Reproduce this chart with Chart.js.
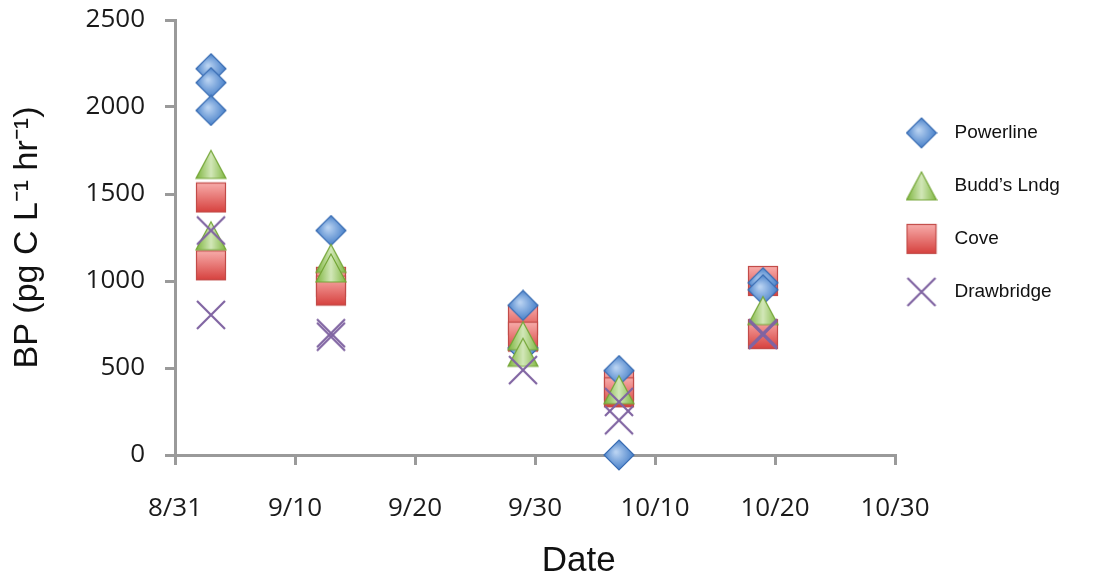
<!DOCTYPE html>
<html>
<head>
<meta charset="utf-8">
<script src="https://cdn.jsdelivr.net/npm/chart.js@4.4.1/dist/chart.umd.min.js"></script>
<style>
  html, body { margin: 0; padding: 0; background: #fff; }
  #wrap { width: 1096px; height: 579px; }
</style>
</head>
<body>
<div id="wrap"><canvas id="bpChart"></canvas></div>
<script>
//------------- DATA -----------------

// sampling days, counted from 8/31
const sampleDays = [3, 13, 29, 37, 49];
const dateTicks = ['8/31', '9/10', '9/20', '9/30', '10/10', '10/20', '10/30'];

// replicate values per sampling day (pg C L-1 hr-1)
const powerline  = [[2220, 2140, 1980], [1290], [860, 615], [485, 0], [990, 950]];
const buddsLndg  = [[1670, 1260], [1130, 1075], [685, 590], [375], [830]];
const cove       = [[1480, 1090], [995, 945], [775, 680], [400, 360], [1000, 695]];
const drawbridge = [[1290, 805], [700, 680], [488], [305, 200], [700, 690]];

function toPoints(reps) {
  const pts = [];
  reps.forEach((vals, i) => vals.forEach(v => pts.push({x: sampleDays[i], y: v})));
  return pts;
}

//------------- MARKERS -----------------

function makeMarker(draw) {
  const c = document.createElement('canvas');
  c.width = 32;
  c.height = 32;
  draw(c.getContext('2d'));
  return c;
}

const diamond = makeMarker(g => {
  const gr = g.createRadialGradient(13, 13, 1, 16, 16, 16);
  gr.addColorStop(0, '#b7d1f1');
  gr.addColorStop(1, '#3f7ac6');
  g.beginPath();
  g.moveTo(16, 1); g.lineTo(31, 16); g.lineTo(16, 31); g.lineTo(1, 16);
  g.closePath();
  g.fillStyle = gr; g.fill();
  g.lineWidth = 1.2; g.strokeStyle = '#3a6db3'; g.stroke();
});

const triangle = makeMarker(g => {
  const gr = g.createLinearGradient(1, 0, 31, 0);
  gr.addColorStop(0, '#7cb43c');
  gr.addColorStop(0.5, '#d2e7b8');
  gr.addColorStop(1, '#80b742');
  g.beginPath();
  g.moveTo(16, 2); g.lineTo(31, 30); g.lineTo(1, 30);
  g.closePath();
  g.fillStyle = gr; g.fill();
  g.lineWidth = 1.2; g.strokeStyle = '#74a637'; g.stroke();
});

const square = makeMarker(g => {
  const gr = g.createLinearGradient(0, 1, 0, 31);
  gr.addColorStop(0, '#f8aeac');
  gr.addColorStop(1, '#d6403d');
  g.fillStyle = gr;
  g.fillRect(1.5, 1.5, 29, 29);
  g.lineWidth = 1.2; g.strokeStyle = '#c24b48';
  g.strokeRect(1.5, 1.5, 29, 29);
});

const cross = makeMarker(g => {
  g.strokeStyle = '#8064a2';
  g.lineWidth = 2.2;
  g.beginPath();
  g.moveTo(2, 2); g.lineTo(30, 30);
  g.moveTo(30, 2); g.lineTo(2, 30);
  g.stroke();
});

//------------- CHART -----------------

const legendWidth = 201;
const legendLeft = 864;

// keep the legend narrow and start its items close to the plot
const legendBox = {
  id: 'legendBox',
  beforeUpdate(chart) {
    const lg = chart.legend;
    if (lg && !lg._fixedFit) {
      const fit = lg.fit;
      lg.fit = function () { fit.call(this); this.width = legendWidth; };
      lg._fixedFit = true;
    }
  },
  afterLayout(chart) {
    const lg = chart.legend;
    lg.left = legendLeft;
    lg.right = legendLeft + legendWidth;
  }
};

const axisGray = '#9a9a9a';

const data = {
  datasets: [
    {label: 'Powerline',   data: toPoints(powerline),  pointStyle: diamond,  order: 2},
    {label: 'Budd\u2019s Lndg', data: toPoints(buddsLndg), pointStyle: triangle, order: 1},
    {label: 'Cove',        data: toPoints(cove),       pointStyle: square,   order: 3},
    {label: 'Drawbridge',  data: toPoints(drawbridge), pointStyle: cross,    order: 0}
  ]
};
data.datasets.forEach(ds => { ds.pointRadius = 15; ds.clip = false; ds.showLine = false; });

const ctx = document.getElementById('bpChart');
new Chart(ctx, {
  type: 'scatter',
  data: data,
  plugins: [legendBox],
  options: {
    responsive: true,
    maintainAspectRatio: false,
    animation: false,
    layout: {padding: {top: 20, right: 0, bottom: 0, left: 0}},
    scales: {
      x: {
        type: 'linear',
        min: 0,
        max: 60,
        afterFit(s) { s.height = 124; },
        border: {color: axisGray, width: 3},
        grid: {drawOnChartArea: false, color: axisGray, lineWidth: 3, tickLength: 10},
        ticks: {
          stepSize: 10,
          padding: 28,
          color: '#1a1a1a',
          font: {family: 'Open Sans', size: 26},
          callback: (v) => dateTicks[Math.round(v / 10)]
        },
        title: {
          display: true,
          text: '\u2002\u2002\u2002\u2002\u2002Date',
          color: '#111',
          font: {family: 'Liberation Sans', size: 35, lineHeight: 1},
          padding: {top: 0, bottom: 0}
        }
      },
      y: {
        min: 0,
        max: 2500,
        afterFit(s) { s.width = 175; s.paddingTop = 0; s.paddingBottom = 0; },
        border: {color: axisGray, width: 3},
        grid: {drawOnChartArea: false, color: axisGray, lineWidth: 3, tickLength: 10},
        ticks: {
          stepSize: 500,
          padding: 20,
          color: '#1a1a1a',
          font: {family: 'Open Sans', size: 26},
          callback: (v) => String(v)
        },
        title: {
          display: true,
          text: 'BP (pg C L\u207B\u00B9 hr\u207B\u00B9)',
          color: '#111',
          font: {family: 'Liberation Sans', size: 34},
          padding: {top: 7, bottom: 7}
        }
      }
    },
    plugins: {
      tooltip: {enabled: false},
      legend: {
        position: 'right',
        align: 'start',
        fullSize: false,
        title: {display: true, text: '', font: {size: 12}, padding: {top: 55, bottom: 0}},
        labels: {
          usePointStyle: true,
          pointStyleWidth: 47,
          padding: 34,
          color: '#111',
          font: {family: 'Liberation Sans', size: 19},
          sort: (a, b) => a.datasetIndex - b.datasetIndex
        }
      }
    }
  }
});
</script>
</body>
</html>
